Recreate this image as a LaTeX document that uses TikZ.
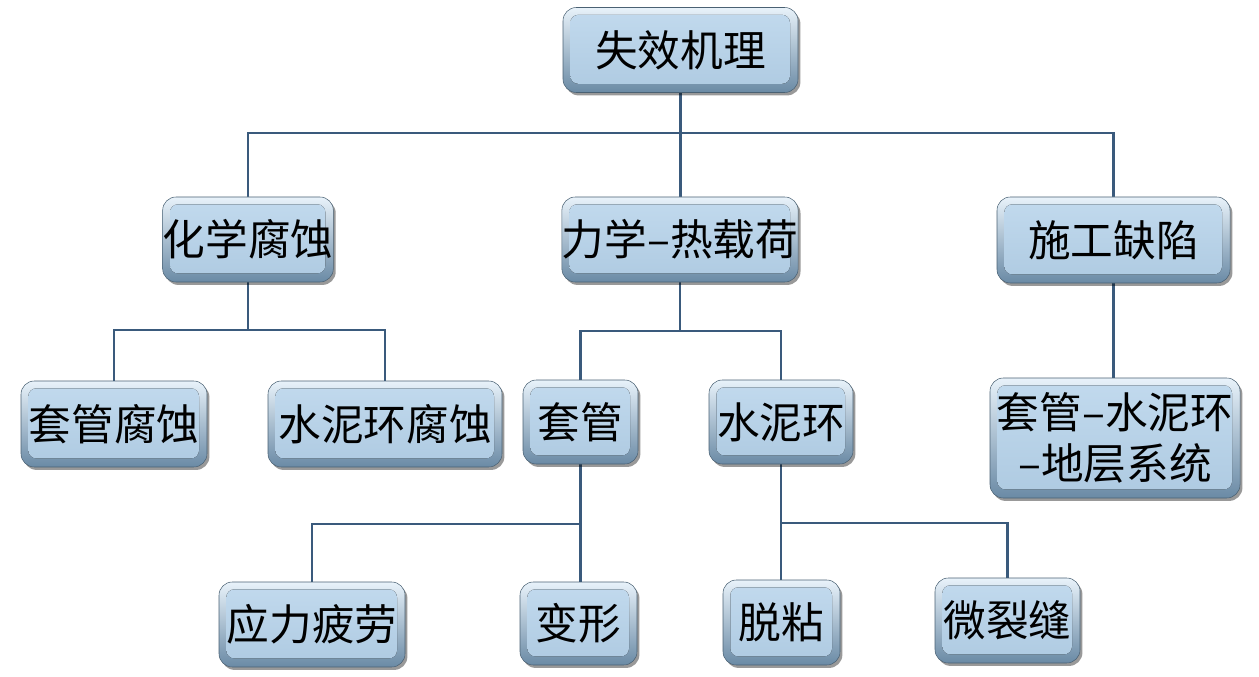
\documentclass[tikz,border=0pt]{standalone}
\usepackage{fontspec}
\newfontfamily\cjk{Noto Sans CJK SC}
\usetikzlibrary{shadows,backgrounds}
\definecolor{lineblue}{HTML}{3A5A7C}
\definecolor{boxtop}{HTML}{E8F2FA}
\definecolor{boxbot}{HTML}{6A8AA5}
\definecolor{facetop}{HTML}{C2DAEE}
\definecolor{facebot}{HTML}{AECAE1}
\tikzset{
  box/.style={rectangle, rounded corners=10pt, inner sep=0pt, align=center,
    font=\cjk\fontsize{32}{38}\selectfont, text=black,
    top color=boxtop, bottom color=boxbot, draw=boxbot!70!black, line width=0.4pt,
    drop shadow={shadow xshift=1.8pt, shadow yshift=-2.2pt, fill=black, opacity=0.4},
    path picture={\fill[top color=facetop, bottom color=facebot, rounded corners=6pt]
      ([xshift=5.5pt,yshift=-5.5pt]path picture bounding box.north west) rectangle
      ([xshift=-6pt,yshift=6.5pt]path picture bounding box.south east);}},
  conn/.style={draw=lineblue, line width=2.2pt}
}
\begin{document}
\begin{tikzpicture}[x=0.75pt,y=-0.75pt]
\useasboundingbox (0,0) rectangle (1259,677);
\node[box, minimum width=235*0.75pt, minimum height=85*0.75pt] (top) at (680.5,50) {失效机理};
\node[box, minimum width=170*0.75pt, minimum height=85*0.75pt] (chem) at (248,239.5) {化学腐蚀};
\node[box, minimum width=234*0.75pt, minimum height=85*0.75pt] (mech) at (680,239.5) {力学–热载荷};
\node[box, minimum width=233*0.75pt, minimum height=86*0.75pt] (cons) at (1113.5,240) {施工缺陷};
\node[box, minimum width=186*0.75pt, minimum height=86*0.75pt] (cc) at (114,424) {套管腐蚀};
\node[box, minimum width=234*0.75pt, minimum height=86*0.75pt] (cec) at (385,424) {水泥环腐蚀};
\node[box, minimum width=115*0.75pt, minimum height=84*0.75pt] (casing) at (580.5,422) {套管};
\node[box, minimum width=144*0.75pt, minimum height=84*0.75pt] (cement) at (781,422) {水泥环};
\node[box, minimum width=250*0.75pt, minimum height=120*0.75pt] (sys) at (1115,438) {套管–水泥环\\–地层系统};
\node[box, minimum width=186*0.75pt, minimum height=85*0.75pt] (fatigue) at (312,624.5) {应力疲劳};
\node[box, minimum width=117*0.75pt, minimum height=83*0.75pt] (deform) at (578.5,623.5) {变形};
\node[box, minimum width=117*0.75pt, minimum height=85*0.75pt] (debond) at (781.5,622.5) {脱粘};
\node[box, minimum width=145*0.75pt, minimum height=85*0.75pt] (crack) at (1007.5,620.5) {微裂缝};
\coordinate (j1) at (680.5,133);
\coordinate (j2) at (248,330);
\coordinate (j3) at (680,331);
\coordinate (j4) at (580.5,524);
\coordinate (j5) at (781,523);
\begin{scope}[on background layer]
\draw[conn] (top.south) -- (j1);
\draw[conn] (j1) -| (chem.north);
\draw[conn] (j1) -| (cons.north);
\draw[conn] (j1) -- (j1 |- mech.north);
\draw[conn] (chem.south) -- (j2);
\draw[conn] (j2) -| (cc.north);
\draw[conn] (j2) -| (cec.north);
\draw[conn] (mech.south) -- (j3);
\draw[conn] (j3) -| (casing.north);
\draw[conn] (j3) -| (cement.north);
\draw[conn] (cons.south) -- (cons.south |- sys.north);
\draw[conn] (casing.south) -- (j4);
\draw[conn] (j4) -| (fatigue.north);
\draw[conn] (j4) -- (j4 |- deform.north);
\draw[conn] (cement.south) -- (j5);
\draw[conn] (j5) -- (j5 |- debond.north);
\draw[conn] (j5) -| (crack.north);
\end{scope}
\end{tikzpicture}
\end{document}
